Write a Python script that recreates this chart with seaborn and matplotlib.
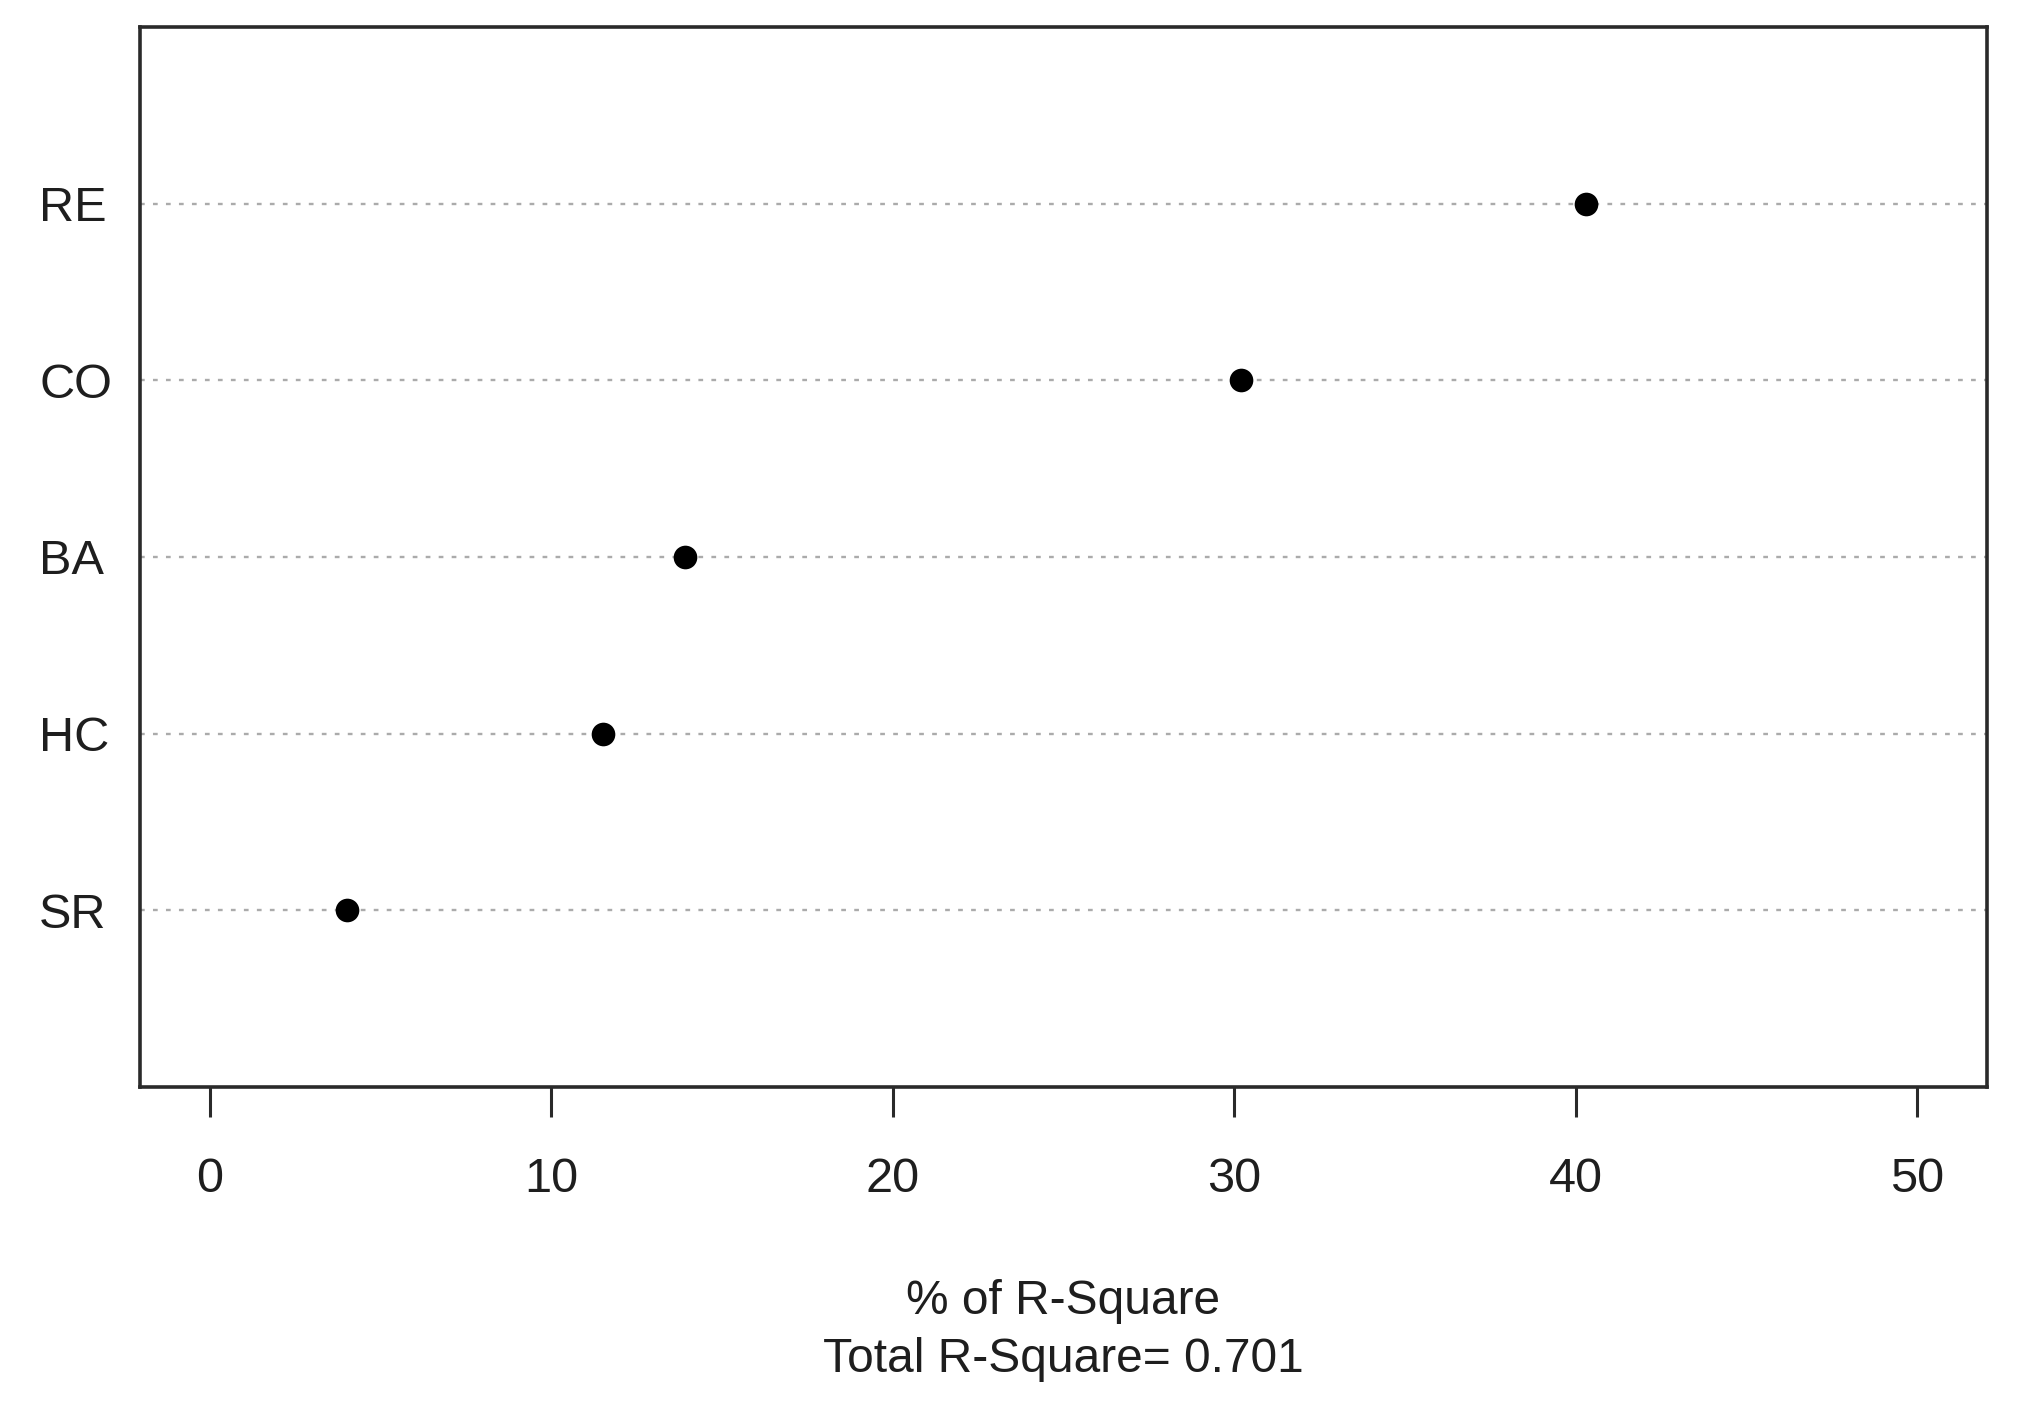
import matplotlib
matplotlib.use("Agg")
import matplotlib.pyplot as plt
import seaborn as sns
import pandas as pd

# Data
categories = ["RE", "CO", "BA", "HC", "SR"]
pct_r_square = [40.3, 30.2, 13.9, 11.5, 4.0]
x_ticks = [0, 10, 20, 30, 40, 50]
total_r_square = 0.701

df = pd.DataFrame({"var": categories, "pct": pct_r_square})

sns.set_theme(style="white")
plt.rcParams["font.family"] = ["Liberation Sans", "DejaVu Sans"]

fig = plt.figure(figsize=(20.19, 14.08), dpi=100)
ax = fig.add_axes([140 / 2019, 1 - 1087 / 1408, (1987 - 140) / 2019, (1087 - 27) / 1408])

sns.scatterplot(data=df, x="pct", y="var", ax=ax, color="black", s=290,
                edgecolor="black", linewidth=0, zorder=3, legend=False)

ax.set_xlim(-2.05, 52.05)
ax.set_ylim(len(categories), -1)

ax.yaxis.grid(True, linestyle=(0, (2, 3.5)), color="#ababab", linewidth=1.7)
ax.xaxis.grid(False)
ax.set_axisbelow(True)

for sp in ax.spines.values():
    sp.set_color("#2a2a2a")
    sp.set_linewidth(2.6)
    sp.set_visible(True)

ax.set_xticks(x_ticks)
ax.set_xticklabels([str(t) for t in x_ticks])
ax.tick_params(axis="x", length=21.5, width=2.2, color="#2a2a2a", pad=29,
               labelsize=35, labelcolor="#1e1e1e", direction="out", bottom=True)
ax.tick_params(axis="y", length=0, pad=72.5, labelsize=35, labelcolor="#1e1e1e")
for lab in ax.get_yticklabels():
    lab.set_horizontalalignment("left")

ax.set_ylabel("")
ax.set_xlabel(f"% of R-Square\nTotal R-Square= {total_r_square}", fontsize=34.5,
              color="#1e1e1e", labelpad=55.5, linespacing=1.36)

fig.savefig("out.png", dpi=100, facecolor="white")
